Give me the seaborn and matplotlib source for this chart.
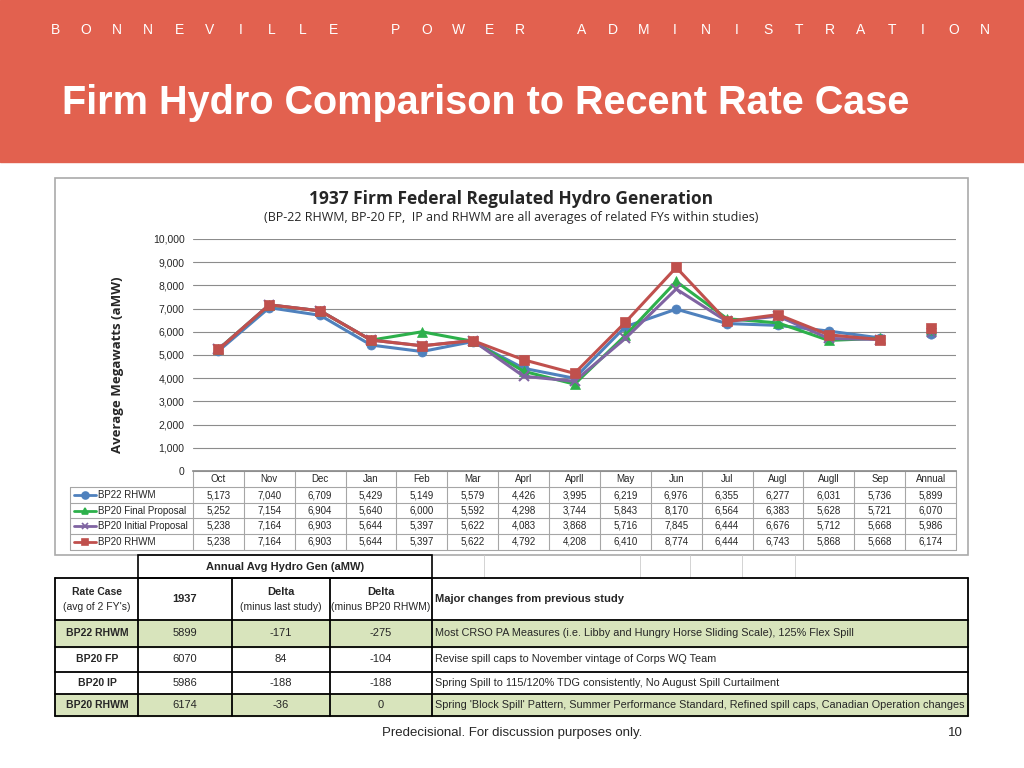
import matplotlib
matplotlib.use("Agg")
import matplotlib.pyplot as plt
import seaborn as sns
import pandas as pd
import numpy as np
from matplotlib.patches import Rectangle

sns.set_theme(style="white")
plt.rcParams['font.family'] = ['Liberation Sans', 'DejaVu Sans']

categories = ["Oct","Nov","Dec","Jan","Feb","Mar","Aprl","Aprll","May","Jun","Jul","Augl","Augll","Sep","Annual"]
series_names = ["BP22 RHWM","BP20 Final Proposal","BP20 Initial Proposal","BP20 RHWM"]
bp22_rhwm = [5173,7040,6709,5429,5149,5579,4426,3995,6219,6976,6355,6277,6031,5736,5899]
bp20_fp = [5252,7154,6904,5640,6000,5592,4298,3744,5843,8170,6564,6383,5628,5721,6070]
bp20_ip = [5238,7164,6903,5644,5397,5622,4083,3868,5716,7845,6444,6676,5712,5668,5986]
bp20_rhwm = [5238,7164,6903,5644,5397,5622,4792,4208,6410,8774,6444,6743,5868,5668,6174]
y_ticks = [0,1000,2000,3000,4000,5000,6000,7000,8000,9000,10000]

rate_cases = ["BP22 RHWM","BP20 FP","BP20 IP","BP20 RHWM"]
gen_1937 = ["5899","6070","5986","6174"]
delta_last = ["-171","84","-188","-36"]
delta_bp20 = ["-275","-104","-188","0"]
changes = ["Most CRSO PA Measures (i.e. Libby and Hungry Horse Sliding Scale), 125% Flex Spill",
           "Revise spill caps to November vintage of Corps WQ Team",
           "Spring Spill to 115/120% TDG consistently, No August Spill Curtailment",
           "Spring 'Block Spill' Pattern, Summer Performance Standard, Refined spill caps, Canadian Operation changes"]

all_series = [bp22_rhwm, bp20_fp, bp20_ip, bp20_rhwm]
colors = ["#4F81BD", "#2DB04B", "#8064A2", "#C0504D"]
markers = ["o", "^", "x", "s"]

W, H = 1024, 768
fig = plt.figure(figsize=(W/100, H/100), dpi=100)
bg = fig.add_axes([0, 0, 1, 1])
bg.set_xlim(0, W); bg.set_ylim(H, 0); bg.axis("off")

# banner
bg.add_patch(Rectangle((0, 0), W, 162, color="#E2614F", zorder=0))
letters = "BONNEVILLE POWER ADMINISTRATION"
xs = np.linspace(55, 985, len(letters))
for ch, x in zip(letters, xs):
    if ch != " ":
        bg.text(x, 30, ch, color="white", fontsize=10, ha="center", va="center")
bg.text(62, 103, "Firm Hydro Comparison to Recent Rate Case", color="white",
        fontsize=28.5, fontweight="bold", ha="left", va="center")

# chart box
bg.add_patch(Rectangle((55, 178), 913, 377, fill=False, edgecolor="#AAAAAA", lw=1.2))
bg.text(511, 199, "1937 Firm Federal Regulated Hydro Generation", fontsize=12.5,
        fontweight="bold", ha="center", va="center", family=["Open Sans", "DejaVu Sans"])
bg.text(511, 217, "(BP-22 RHWM, BP-20 FP,  IP and RHWM are all averages of related FYs within studies)",
        fontsize=9, ha="center", va="center", family=["Open Sans", "DejaVu Sans"])
bg.text(117, 365, "Average Megawatts (aMW)", fontsize=9.5, fontweight="bold", rotation=90,
        ha="center", va="center", family=["Open Sans", "DejaVu Sans"])

# plot axes
ax_l, ax_r, ax_t, ax_b = 193, 956, 239, 471
ax = fig.add_axes([ax_l/W, 1-ax_b/H, (ax_r-ax_l)/W, (ax_b-ax_t)/H])
ax.set_xlim(-0.5, 14.5); ax.set_ylim(0, 10000)
ax.set_yticks(y_ticks)
ax.set_yticklabels([f"{v:,}" for v in y_ticks], fontsize=7.5)
ax.set_xticks([])
ax.yaxis.grid(True, color="#8C8C8C", lw=0.8)
for s in ["top", "right", "left"]:
    ax.spines[s].set_visible(False)
ax.spines["bottom"].set_color("#8C8C8C")
ax.tick_params(axis="y", length=0, pad=6)
for name, vals, c, m in zip(series_names, all_series, colors, markers):
    df = pd.DataFrame({"x": np.arange(14), "y": vals[:14]})
    sns.lineplot(data=df, x="x", y="y", ax=ax, color=c, marker=m, markersize=6.5,
                 lw=2.2, markeredgecolor=c, markeredgewidth=1.5 if m == "x" else 0.5, legend=False)
    sns.scatterplot(x=[14], y=[vals[14]], ax=ax, color=c, marker=m, s=45,
                    edgecolor=c if m != "x" else None, linewidth=1.5 if m == "x" else 0.5, legend=False)
ax.set_xlabel(""); ax.set_ylabel("")

# data table under chart
col_w = (ax_r - ax_l) / 15
rows_y = [471, 487, 503, 518, 534, 550]
lc = "#A6A6A6"
for y in rows_y:
    x0 = ax_l if y == 471 else 70
    bg.plot([x0, ax_r], [y, y], color=lc, lw=0.8)
for i in range(16):
    x = ax_l + i*col_w
    bg.plot([x, x], [471, 550], color=lc, lw=0.8)
bg.plot([70, 70], [487, 550], color=lc, lw=0.8)
for i, c in enumerate(categories):
    bg.text(ax_l + (i+0.5)*col_w, 479, c, fontsize=7, ha="center", va="center")
for r, (name, vals, c, m) in enumerate(zip(series_names, all_series, colors, markers)):
    yc = (rows_y[r+1] + rows_y[r+2]) / 2
    bg.plot([74, 96], [yc, yc], color=c, lw=2)
    bg.plot([85], [yc], marker=m, color=c, markersize=5, markeredgewidth=1.2)
    bg.text(98, yc, name, fontsize=7, ha="left", va="center")
    for i, v in enumerate(vals):
        bg.text(ax_l + (i+0.5)*col_w, yc, f"{v:,}", fontsize=7, ha="center", va="center")

# lower table
xs_col = [55, 138, 232, 330, 432, 968]
bg.add_patch(Rectangle((138, 555), 294, 23, fill=False, edgecolor="black", lw=1.2))
bg.text(285, 567, "Annual Avg Hydro Gen (aMW)", fontsize=8, fontweight="bold", ha="center", va="center")
for x in [484, 640, 690, 742, 795]:
    bg.plot([x, x], [555, 578], color="#CCCCCC", lw=0.6)
row_bounds = [578, 620, 647, 672, 694, 716]
row_fill = [None, "#D8E4BC", None, None, "#D8E4BC"]
for r in range(5):
    y0, y1 = row_bounds[r], row_bounds[r+1]
    if row_fill[r]:
        bg.add_patch(Rectangle((55, y0), 913, y1-y0, color=row_fill[r], zorder=0))
for y in row_bounds:
    bg.plot([55, 968], [y, y], color="black", lw=1.3)
for x in xs_col:
    bg.plot([x, x], [578, 716], color="black", lw=1.3)
hy = 599
bg.text(97, 592, "Rate Case", fontsize=7.5, fontweight="bold", ha="center", va="center")
bg.text(97, 607, "(avg of 2 FY's)", fontsize=7.5, ha="center", va="center")
bg.text(185, hy, "1937", fontsize=8, fontweight="bold", ha="center", va="center")
bg.text(281, 592, "Delta", fontsize=8, fontweight="bold", ha="center", va="center")
bg.text(281, 607, "(minus last study)", fontsize=7.5, ha="center", va="center")
bg.text(381, 592, "Delta", fontsize=8, fontweight="bold", ha="center", va="center")
bg.text(381, 607, "(minus BP20 RHWM)", fontsize=7.5, ha="center", va="center")
bg.text(435, hy, "Major changes from previous study", fontsize=8, fontweight="bold", ha="left", va="center")
for r in range(4):
    yc = (row_bounds[r+1] + row_bounds[r+2]) / 2
    bg.text(97, yc, rate_cases[r], fontsize=7.5, fontweight="bold", ha="center", va="center")
    bg.text(185, yc, gen_1937[r], fontsize=8, ha="center", va="center")
    bg.text(281, yc, delta_last[r], fontsize=8, ha="center", va="center")
    bg.text(381, yc, delta_bp20[r], fontsize=8, ha="center", va="center")
    bg.text(435, yc, changes[r], fontsize=7.8, ha="left", va="center")

bg.text(512, 733, "Predecisional. For discussion purposes only.", fontsize=9.5, ha="center", va="center")
bg.text(955, 733, "10", fontsize=9.5, ha="center", va="center")

fig.savefig("out.png", dpi=100)
